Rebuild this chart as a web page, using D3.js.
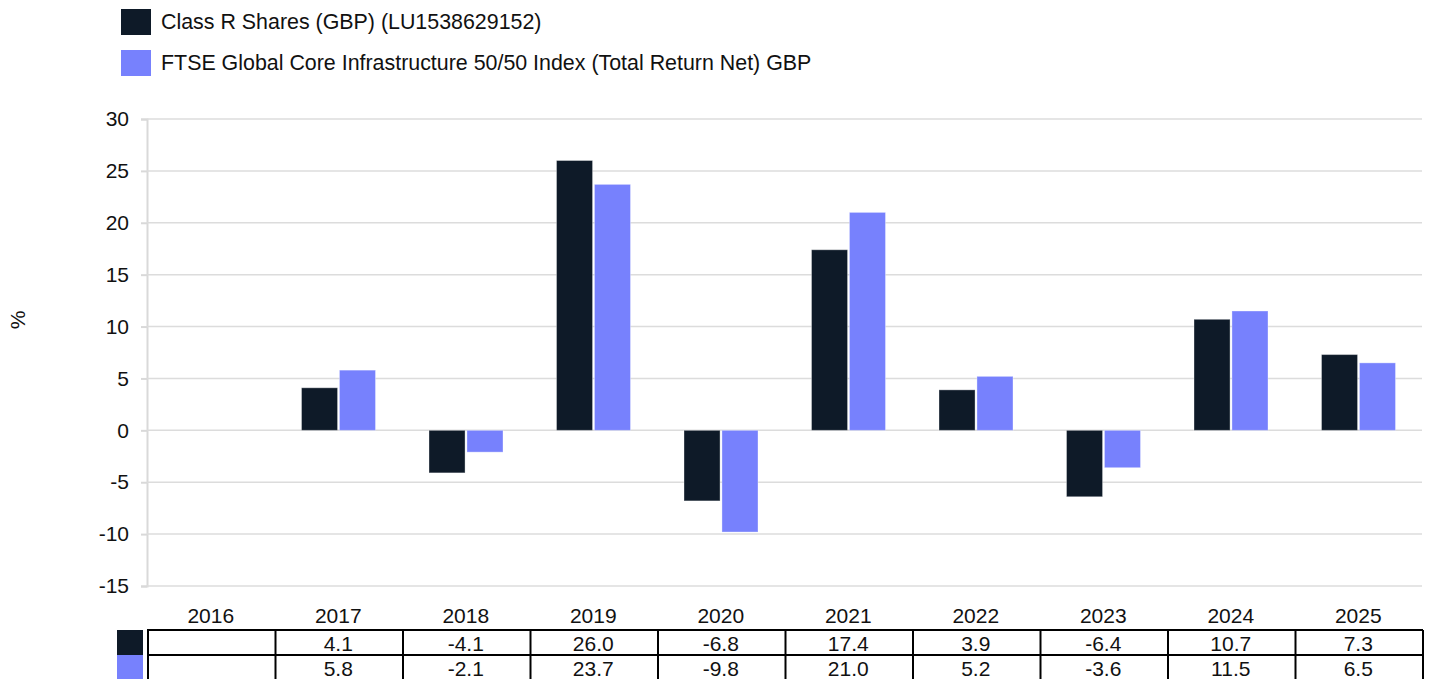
<!DOCTYPE html>
<html>
<head>
<meta charset="utf-8">
<script src="https://cdn.jsdelivr.net/npm/d3@7"></script>
<style>
  body { margin: 0; background: #fff; }
  svg { font-family: "Liberation Sans", Arial, sans-serif; }
</style>
</head>
<body>
<div id="chart"></div>
<script>
// chart data
const years = ["2016", "2017", "2018", "2019", "2020", "2021", "2022", "2023", "2024", "2025"]
const seriesNames = ["Class R Shares (GBP) (LU1538629152)", "FTSE Global Core Infrastructure 50/50 Index (Total Return Net) GBP"]
const fundValues = [null, 4.1, -4.1, 26.0, -6.8, 17.4, 3.9, -6.4, 10.7, 7.3]
const indexValues = [null, 5.8, -2.1, 23.7, -9.8, 21.0, 5.2, -3.6, 11.5, 6.5]
const yTicks = [30, 25, 20, 15, 10, 5, 0, -5, -10, -15]
const colors = ["#0e1a28", "#7781fd"]

const width = 1431
const height = 679
const plotLeft = 147, plotRight = 1422, plotTop = 119, plotBottom = 586
const fontSize = "21px"

const svg = d3.select("#chart")
  .append("svg")
  .attr("width", width)
  .attr("height", height)

// legend
const legend = svg.append("g")
seriesNames.forEach(function(name, i) {
  legend.append("rect")
    .attr("x", 121).attr("y", 9 + i * 41)
    .attr("width", 30).attr("height", 26)
    .attr("fill", colors[i])
  legend.append("text")
    .attr("x", 161).attr("y", 22 + i * 41)
    .attr("dy", "0.35em")
    .style("font-size", "21.4px")
    .attr("fill", "#111")
    .text(name)
})

// scales
const y = d3.scaleLinear().domain([-15, 30]).range([plotBottom, plotTop])
const x0 = d3.scaleBand().domain(years).range([plotLeft, plotRight])
const x1 = d3.scaleBand().domain([0, 1]).range([27, 101]).paddingInner(0.05)

// y axis
const yAxis = svg.append("g")
  .attr("transform", `translate(${plotLeft},0)`)
  .call(d3.axisLeft(y).tickValues(yTicks).tickSize(6).tickPadding(12).tickFormat(d => String(d)))
yAxis.select(".domain").attr("stroke", "#d9d9d9").attr("stroke-width", 2)
yAxis.selectAll(".tick line").attr("stroke", "#d9d9d9").attr("stroke-width", 2)
yAxis.selectAll(".tick text").style("font-size", fontSize).attr("fill", "#111")

// gridlines
svg.append("g")
  .selectAll("line")
  .data(yTicks)
  .join("line")
    .attr("x1", plotLeft).attr("x2", plotRight)
    .attr("y1", d => y(d)).attr("y2", d => y(d))
    .attr("stroke", "#dcdcdc")
    .attr("stroke-width", 1.5)

// y label
svg.append("text")
  .attr("transform", "translate(18,320) rotate(-90)")
  .attr("text-anchor", "middle")
  .attr("dy", "0.35em")
  .style("font-size", fontSize)
  .attr("fill", "#111")
  .text("%")

// bars
const allSeries = [fundValues, indexValues]
const barData = []
years.forEach(function(yr, i) {
  allSeries.forEach(function(vals, s) {
    if (vals[i] != null) barData.push({ year: yr, s: s, v: vals[i] })
  })
})

svg.append("g")
  .selectAll("rect")
  .data(barData)
  .join("rect")
    .attr("x", d => x0(d.year) + x1(d.s))
    .attr("width", x1.bandwidth())
    .attr("y", d => y(Math.max(0, d.v)))
    .attr("height", d => Math.abs(y(d.v) - y(0)))
    .attr("fill", d => colors[d.s])
    .attr("stroke", "rgba(255,255,255,0.35)")
    .attr("stroke-width", 1)

// category labels
svg.append("g")
  .selectAll("text")
  .data(years)
  .join("text")
    .attr("x", d => x0(d) + x0.bandwidth() / 2)
    .attr("y", 616)
    .attr("dy", "0.35em")
    .attr("text-anchor", "middle")
    .style("font-size", fontSize)
    .attr("fill", "#111")
    .text(d => d)

// data table
const tableTop = 630, rowH = 25
const table = svg.append("g")
allSeries.forEach(function(vals, s) {
  table.append("rect")
    .attr("x", 117).attr("y", tableTop + s * rowH)
    .attr("width", 26).attr("height", rowH)
    .attr("fill", colors[s])
  table.selectAll(null)
    .data(years)
    .enter()
    .append("text")
      .attr("x", d => x0(d) + x0.bandwidth() / 2)
      .attr("y", tableTop + s * rowH + rowH / 2 + 1)
      .attr("dy", "0.35em")
      .attr("text-anchor", "middle")
      .style("font-size", fontSize)
      .attr("fill", "#111")
      .text((d, i) => vals[i] == null ? "" : vals[i].toFixed(1))
})

// table grid
const hLines = [0, 1, 2]
table.selectAll(".hline")
  .data(hLines)
  .join("line")
    .attr("class", "hline")
    .attr("x1", plotLeft).attr("x2", plotRight + 1)
    .attr("y1", d => tableTop + d * rowH).attr("y2", d => tableTop + d * rowH)
    .attr("stroke", "#000").attr("stroke-width", 2)
table.selectAll(".vline")
  .data(years.concat(["end"]))
  .join("line")
    .attr("class", "vline")
    .attr("x1", (d, i) => i < years.length ? x0(d) + 1 : plotRight + 1)
    .attr("x2", (d, i) => i < years.length ? x0(d) + 1 : plotRight + 1)
    .attr("y1", tableTop).attr("y2", tableTop + 2 * rowH)
    .attr("stroke", "#000").attr("stroke-width", 2)
</script>
</body>
</html>
